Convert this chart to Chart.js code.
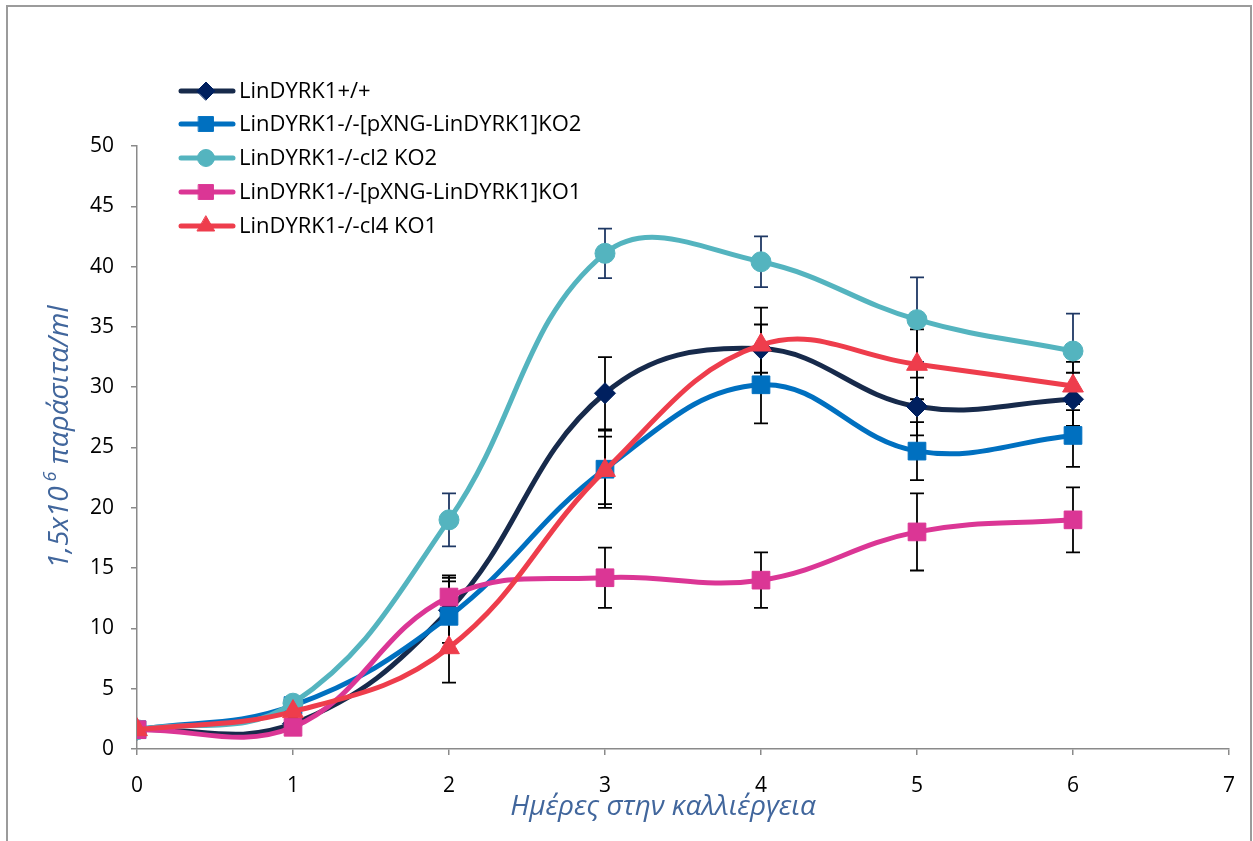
<!DOCTYPE html>
<html>
<head>
<meta charset="utf-8">
<script src="https://cdn.jsdelivr.net/npm/chart.js@4.4.1/dist/chart.umd.min.js"></script>
<style>
  html, body { margin: 0; padding: 0; background: #ffffff; }
  #wrap { position: relative; width: 1253px; height: 841px; }
</style>
</head>
<body>
<div id="wrap"><canvas id="growth" width="1253" height="841"></canvas></div>
<script>
// Days in culture
const days = [0, 1, 2, 3, 4, 5, 6];

// Series names
const seriesNames = [
  'LinDYRK1+/+',
  'LinDYRK1-/-[pXNG-LinDYRK1]KO2',
  'LinDYRK1-/-cl2 KO2',
  'LinDYRK1-/-[pXNG-LinDYRK1]KO1',
  'LinDYRK1-/-cl4 KO1'
];

// Parasite density (x1.5x10^6 /ml), mean per day
const wildType   = [1.6, 2.1, 11.5, 29.5, 33.2, 28.4, 29.0];
const addBackKO2 = [1.6, 3.6, 11.0, 23.2, 30.2, 24.7, 26.0];
const clone2KO2  = [1.6, 3.8, 19.0, 41.1, 40.4, 35.6, 33.0];
const addBackKO1 = [1.6, 1.8, 12.6, 14.2, 14.0, 18.0, 19.0];
const clone4KO1  = [1.6, 3.1, 8.4, 23.1, 33.5, 31.9, 30.1];

// Standard deviations per day
const wildTypeErr   = [0, 0, 2.7, 3.0, 2.0, 2.4, 2.2];
const addBackKO2Err = [0, 0, 2.9, 3.2, 3.2, 2.4, 2.6];
const clone2KO2Err  = [0, 0, 2.2, 2.05, 2.1, 3.5, 3.1];
const addBackKO1Err = [0, 0, 1.8, 2.5, 2.3, 3.2, 2.7];
const clone4KO1Err  = [0, 0, 2.9, 2.8, 3.1, 2.9, 2.0];

// Axis ticks
const yTicks = [0, 5, 10, 15, 20, 25, 30, 35, 40, 45, 50];
const xTicks = [0, 1, 2, 3, 4, 5, 6, 7];

const yTitleMain = '1,5x10';
const yTitleSup = '6';
const yTitleRest = ' παράσιτα/ml';
const xTitle = 'Ημέρες στην καλλιέργεια';

const FONT = '"Open Sans", "Noto Sans", "DejaVu Sans", sans-serif';
const TITLE_COLOR = '#41669c';

const seriesValues = [wildType, addBackKO2, clone2KO2, addBackKO1, clone4KO1];
const seriesErrors = [wildTypeErr, addBackKO2Err, clone2KO2Err, addBackKO1Err, clone4KO1Err];
const lineColors   = ['#172a4b', '#0070c0', '#54b4bf', '#db3695', '#ee3d4c'];
const markerColors = ['#00205f', '#0070c0', '#54b4bf', '#db3695', '#ee3d4c'];
const errorColors  = ['#000000', '#000000', '#1f3864', '#000000', '#000000'];
const markerStyles = ['rectRot', 'rect', 'circle', 'rect', 'triangle'];
const markerRadii  = [10.5, 12.5, 10, 12.5, 12];
const legendRadii  = [9, 10.5, 8.5, 10.5, 10];

const datasets = seriesValues.map((vals, i) => ({
  label: seriesNames[i],
  data: days.map((d, j) => ({ x: d, y: vals[j] })),
  borderColor: lineColors[i],
  backgroundColor: markerColors[i],
  pointBackgroundColor: markerColors[i],
  pointBorderColor: markerColors[i],
  pointBorderWidth: 1,
  pointStyle: markerStyles[i],
  pointRadius: markerRadii[i],
  pointHoverRadius: markerRadii[i],
  borderWidth: 5,
  tension: 0.4,
  fill: false,
  order: seriesValues.length - i
}));

// Outer frame of the chart
const framePlugin = {
  id: 'frame',
  beforeDraw(chart) {
    const ctx = chart.ctx;
    ctx.save();
    ctx.fillStyle = '#ffffff';
    ctx.fillRect(0, 0, chart.width, chart.height);
    ctx.strokeStyle = '#9b9b9b';
    ctx.lineWidth = 2;
    ctx.strokeRect(7, 6, 1244, 860);
    ctx.restore();
  }
};

// Vertical error bars with caps, under the series lines
const errorBarPlugin = {
  id: 'errorBars',
  beforeDatasetsDraw(chart) {
    const ctx = chart.ctx;
    const xs = chart.scales.x, ys = chart.scales.y;
    ctx.save();
    ctx.lineWidth = 1.8;
    seriesValues.forEach((vals, i) => {
      ctx.strokeStyle = errorColors[i];
      vals.forEach((v, j) => {
        const e = seriesErrors[i][j];
        if (!e) return;
        const px = xs.getPixelForValue(days[j]);
        const top = ys.getPixelForValue(v + e);
        const bot = ys.getPixelForValue(v - e);
        ctx.beginPath();
        ctx.moveTo(px, top); ctx.lineTo(px, bot);
        ctx.moveTo(px - 7, top); ctx.lineTo(px + 7, top);
        ctx.moveTo(px - 7, bot); ctx.lineTo(px + 7, bot);
        ctx.stroke();
      });
    });
    ctx.restore();
  }
};

// Legend block inside the plot, plus both axis titles
const annotatePlugin = {
  id: 'annotate',
  afterDraw(chart) {
    const ctx = chart.ctx;
    ctx.save();
    // legend
    const rowY = [91, 124, 158, 192, 226];
    seriesNames.forEach((name, i) => {
      const y = rowY[i];
      ctx.strokeStyle = lineColors[i];
      ctx.lineWidth = 5;
      ctx.lineCap = 'round';
      ctx.beginPath();
      ctx.moveTo(181, y); ctx.lineTo(233, y);
      ctx.stroke();
      ctx.fillStyle = markerColors[i];
      ctx.strokeStyle = markerColors[i];
      ctx.lineWidth = 1;
      Chart.helpers.drawPoint(ctx, { pointStyle: markerStyles[i], radius: legendRadii[i], rotation: 0, borderWidth: 1 }, 206, y);
      ctx.fillStyle = '#000000';
      ctx.font = '22px ' + FONT;
      ctx.textAlign = 'left';
      ctx.textBaseline = 'middle';
      ctx.fillText(name, 239, y + 1);
    });

    // x title
    ctx.fillStyle = TITLE_COLOR;
    ctx.font = 'italic 28px ' + FONT;
    ctx.textAlign = 'center';
    ctx.textBaseline = 'middle';
    ctx.fillText(xTitle, 663, 807);

    // y title, rotated, with a superscript exponent
    const mainFont = 'italic 28px ' + FONT;
    const supFont = 'italic 18px ' + FONT;
    ctx.font = mainFont;
    const w1 = ctx.measureText(yTitleMain).width;
    const w3 = ctx.measureText(yTitleRest).width;
    ctx.font = supFont;
    const w2 = ctx.measureText(yTitleSup).width + 5;
    const total = w1 + w2 + w3;
    ctx.translate(60, 437);
    ctx.rotate(-Math.PI / 2);
    ctx.textAlign = 'left';
    ctx.textBaseline = 'middle';
    let cx = -total / 2;
    ctx.font = mainFont;
    ctx.fillText(yTitleMain, cx, 0);
    cx += w1 + 5;
    ctx.font = supFont;
    ctx.fillText(yTitleSup, cx, -9);
    cx += w2 - 5;
    ctx.font = mainFont;
    ctx.fillText(yTitleRest, cx, 0);
    ctx.restore();
  }
};

const axisGrey = '#8a8a8a';

new Chart(document.getElementById('growth'), {
  type: 'line',
  data: { datasets },
  options: {
    responsive: false,
    animation: false,
    devicePixelRatio: 1,
    layout: { padding: { top: 146, right: 22, left: 0, bottom: 0 } },
    plugins: {
      legend: { display: false },
      tooltip: { enabled: false },
      title: { display: false }
    },
    scales: {
      x: {
        type: 'linear',
        min: xTicks[0],
        max: xTicks[xTicks.length - 1],
        afterBuildTicks(scale) { scale.ticks = xTicks.map(v => ({ value: v })); },
        afterFit(scale) { scale.height = 92; },
        ticks: {
          color: '#000000',
          font: { family: FONT, size: 21 },
          padding: 18,
          maxRotation: 0
        },
        grid: { drawOnChartArea: false, drawTicks: true, tickLength: 6, color: axisGrey, lineWidth: 1.5 },
        border: { color: axisGrey, width: 1.5 }
      },
      y: {
        type: 'linear',
        min: yTicks[0],
        max: yTicks[yTicks.length - 1],
        afterBuildTicks(scale) { scale.ticks = yTicks.map(v => ({ value: v })); },
        afterFit(scale) { scale.width = 137; },
        ticks: {
          color: '#000000',
          font: { family: FONT, size: 21 },
          padding: 17
        },
        grid: { drawOnChartArea: false, drawTicks: true, tickLength: 6, color: axisGrey, lineWidth: 1.5 },
        border: { color: axisGrey, width: 1.5 }
      }
    }
  },
  plugins: [framePlugin, errorBarPlugin, annotatePlugin]
});
</script>
</body>
</html>
